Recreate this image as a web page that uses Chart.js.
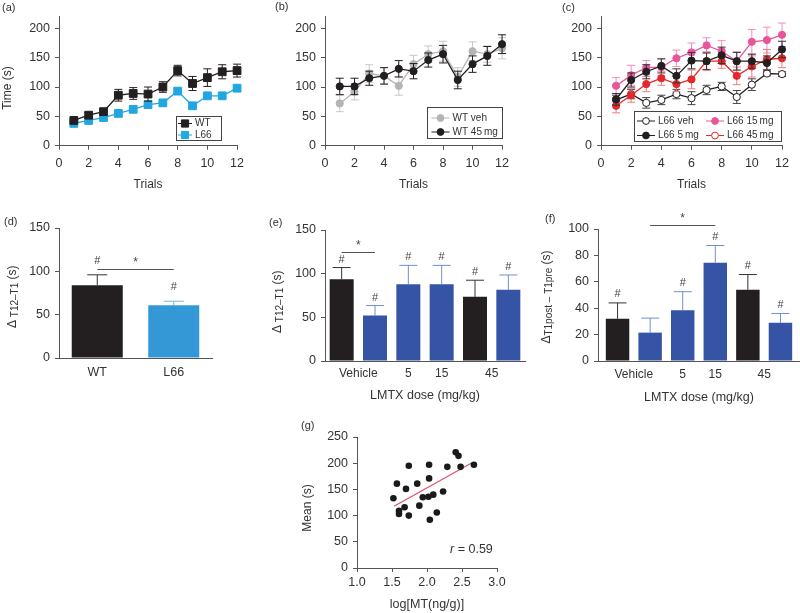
<!DOCTYPE html>
<html>
<head>
<meta charset="utf-8">
<script src="https://cdn.jsdelivr.net/npm/chart.js@4.4.1/dist/chart.umd.min.js"></script>
<style>
  body { margin: 0; background: #fff; }
  #fig { position: relative; width: 800px; height: 613px; overflow: hidden; }
  canvas { position: absolute; }
  .lab { position: absolute; font: 11px "Liberation Sans", Arial, sans-serif; color: #333; }
</style>
</head>
<body>
<div id="fig">
  <canvas id="chA" width="250" height="200" style="left:0;top:0"></canvas>
  <canvas id="chB" width="250" height="200" style="left:265px;top:0"></canvas>
  <canvas id="chC" width="265" height="200" style="left:535px;top:0"></canvas>
  <canvas id="chD" width="265" height="200" style="left:0;top:200px"></canvas>
  <canvas id="chE" width="265" height="210" style="left:265px;top:200px"></canvas>
  <canvas id="chF" width="265" height="210" style="left:535px;top:200px"></canvas>
  <canvas id="chG" width="260" height="213" style="left:280px;top:400px"></canvas>
  <div class="lab" style="left:2px;top:1px">(a)</div>
  <div class="lab" style="left:275px;top:0">(b)</div>
  <div class="lab" style="left:562px;top:1px">(c)</div>
  <div class="lab" style="left:4px;top:215px">(d)</div>
  <div class="lab" style="left:269px;top:216px">(e)</div>
  <div class="lab" style="left:545px;top:212px">(f)</div>
  <div class="lab" style="left:301px;top:419px">(g)</div>
</div>
<script>
// --- data ---
const trials = [1, 2, 3, 4, 5, 6, 7, 8, 9, 10, 11, 12];

// (a)
const aWT = [43, 52, 58, 86, 89, 88, 100, 128, 106, 116, 126, 128];
const aWTErr = [4, 5, 5, 10, 10, 12, 9, 9, 12, 15, 12, 11];
const aL66 = [38, 43, 48, 55, 62, 70, 73, 93, 68, 85, 85, 98];
const aL66Err = [3, 3, 3, 3, 3, 3, 3, 4, 3, 3, 3, 3];

// (b)
const bVeh = [72, 92, 123, 119, 102, 139, 156, 161, 117, 161, 156, 166];
const bVehErr = [14, 14, 15, 14, 16, 15, 14, 17, 16, 16, 14, 18];
const b45 = [101, 101, 115, 119, 131, 127, 146, 156, 112, 139, 153, 173];
const b45Err = [14, 14, 12, 14, 14, 13, 12, 15, 15, 14, 16, 16];

// (c)
const cVeh = [78, 88, 73, 78, 88, 81, 95, 101, 83, 104, 123, 122];
const cVehErr = [8, 8, 9, 8, 8, 11, 8, 7, 11, 10, 4, 4];
const c5 = [79, 112, 126, 136, 119, 145, 144, 154, 144, 144, 141, 164];
const c5Err = [10, 12, 12, 12, 12, 14, 14, 14, 15, 12, 12, 14];
const c15 = [102, 120, 133, 134, 149, 159, 171, 161, 144, 177, 180, 189];
const c15Err = [14, 17, 12, 14, 14, 16, 13, 18, 16, 21, 22, 20];
const c45 = [68, 86, 105, 115, 105, 113, 144, 144, 119, 135, 147, 149];
const c45Err = [12, 12, 13, 12, 13, 16, 16, 12, 15, 18, 17, 16];

// (d)
const dLabels = ['WT', 'L66'];
const dVals = [84, 61];
const dErr = [12, 4.5];
const dHash = [true, true];

// (e) and (f): six bars, grouped tick labels
const barPos = [1, 2, 3, 4, 5, 6];
const doseTickPos = [1.5, 3, 4, 5.5];
const doseTickLabels = ['Vehicle', '5', '15', '45'];
const eVals = [93.5, 52, 88, 88, 73.5, 81.5];
const eErr = [13.5, 11.5, 21.5, 21.5, 19, 17];
const eHash = [true, true, true, true, true, true];
const fVals = [32, 21.5, 38.5, 74.5, 54, 29];
const fErr = [12, 11, 14, 13, 11.5, 7];
const fHash = [true, false, true, true, true, true];

// (g)
const gX = [1.52, 1.57, 1.60, 1.60, 1.68, 1.70, 1.74, 1.74, 1.86, 1.89, 1.94, 2.02, 2.03, 2.03, 2.04, 2.09, 2.14, 2.23, 2.29, 2.41, 2.45, 2.48, 2.67];
const gY = [133, 161, 109, 103, 116, 151, 100, 195, 161, 119, 135, 136, 171, 197, 92, 140, 106, 146, 193, 221, 214, 193, 197];
const gFitX = [1.53, 2.63];
const gFitY = [118, 200];

// --- colours ---
const BLACK = '#231f20';
const AXIS = '#555';
const CYAN = '#21a6e0';
const GREY = '#b4b4b4';
const PINK = '#e9559b';
const RED = '#e5262b';
const NAVY = '#3654a5';
const SKY = '#3598d6';

Chart.defaults.font.family = '"Liberation Sans", Arial, sans-serif';
Chart.defaults.font.size = 12;
Chart.defaults.color = '#333';
Chart.defaults.animation = false;
Chart.defaults.plugins.legend.display = false;
Chart.defaults.plugins.tooltip.enabled = false;

const pts = (xs, ys) => xs.map((x, i) => ({ x, y: ys[i] }));

// error bars, drawn just before each dataset
const errorBars = {
    id: 'errorBars',
    beforeDatasetDraw(chart, args) {
        const ds = chart.data.datasets[args.index];
        if (!ds.errors) return;
        const y = chart.scales.y;
        const ctx = chart.ctx;
        ctx.save();
        ctx.strokeStyle = ds.errorColor || ds.borderColor;
        ctx.lineWidth = 1;
        args.meta.data.forEach((el, i) => {
            const d = ds.data[i];
            const v = typeof d === 'object' ? d.y : d;
            const e = ds.errors[i];
            const col = Array.isArray(ds.errorColor) ? ds.errorColor[i] : ds.errorColor;
            if (col) ctx.strokeStyle = col;
            const top = y.getPixelForValue(v + e);
            const bot = y.getPixelForValue(ds.upperOnly ? v : v - e);
            const cap = ds.capHalf || 4;
            ctx.beginPath();
            ctx.moveTo(el.x, top); ctx.lineTo(el.x, bot);
            ctx.moveTo(el.x - cap, top); ctx.lineTo(el.x + cap, top);
            if (!ds.upperOnly) { ctx.moveTo(el.x - cap, bot); ctx.lineTo(el.x + cap, bot); }
            ctx.stroke();
        });
        ctx.restore();
    }
};

// "#" marks above bars, "*" brackets
const sigMarks = {
    id: 'sigMarks',
    afterDatasetsDraw(chart, args, o) {
        if (!o.hash && !o.brackets) return;
        const ctx = chart.ctx;
        const y = chart.scales.y;
        const ds = chart.data.datasets[0];
        const meta = chart.getDatasetMeta(0);
        ctx.save();
        ctx.fillStyle = '#444';
        ctx.strokeStyle = AXIS;
        ctx.lineWidth = 1;
        ctx.textAlign = 'center';
        ctx.textBaseline = 'middle';
        ctx.font = '11px "Liberation Sans", Arial, sans-serif';
        (o.hash || []).forEach((h, i) => {
            if (!h) return;
            const d = ds.data[i];
            const v = (typeof d === 'object' ? d.y : d) + ds.errors[i];
            ctx.fillText('#', meta.data[i].x, y.getPixelForValue(v) - o.hashGap);
        });
        (o.brackets || []).forEach(b => {
            const x1 = meta.data[b.from].x, x2 = meta.data[b.to].x;
            const py = Math.round(y.getPixelForValue(b.y)) + 0.5;
            ctx.beginPath(); ctx.moveTo(x1, py); ctx.lineTo(x2, py); ctx.stroke();
            ctx.font = '12px "Liberation Sans", Arial, sans-serif';
            ctx.fillText('*', (x1 + x2) / 2, py - 7);
        });
        ctx.restore();
    }
};

// rotated axis title with optional subscript parts
const sideTitle = {
    id: 'sideTitle',
    afterDraw(chart, args, o) {
        if (!o.parts) return;
        const ctx = chart.ctx;
        const big = '12px "Liberation Sans", Arial, sans-serif';
        const small = '10px "Liberation Sans", Arial, sans-serif';
        ctx.save();
        let total = 0;
        o.parts.forEach(p => { ctx.font = p[1] ? small : big; total += ctx.measureText(p[0]).width; });
        ctx.translate(o.x, o.y);
        ctx.rotate(-Math.PI / 2);
        ctx.fillStyle = '#333';
        ctx.textBaseline = 'middle';
        ctx.textAlign = 'left';
        let x = -total / 2;
        o.parts.forEach(p => {
            ctx.font = p[1] ? small : big;
            ctx.fillText(p[0], x, p[1] ? 2.5 : 0);
            x += ctx.measureText(p[0]).width;
        });
        ctx.restore();
    }
};

// boxed legend with line through the marker
function drawMarker(ctx, style, x, y, r, fill, stroke) {
    ctx.fillStyle = fill;
    ctx.strokeStyle = stroke;
    ctx.lineWidth = 1;
    ctx.beginPath();
    if (style === 'rect') ctx.rect(x - r * 0.72, y - r * 0.72, r * 1.44, r * 1.44);
    else ctx.arc(x, y, r, 0, Math.PI * 2);
    ctx.fill();
    ctx.stroke();
}
const boxLegend = {
    id: 'boxLegend',
    afterDraw(chart, args, o) {
        if (!o.box) return;
        const ctx = chart.ctx;
        const b = o.box;
        ctx.save();
        ctx.strokeStyle = '#444';
        ctx.lineWidth = 1;
        ctx.strokeRect(b[0] + 0.5, b[1] + 0.5, b[2], b[3]);
        ctx.font = '10px "Liberation Sans", Arial, sans-serif';
        ctx.textBaseline = 'middle';
        chart.data.datasets.forEach((ds, i) => {
            const s = o.slots[i];
            const len = o.lineLen;
            ctx.strokeStyle = ds.borderColor;
            ctx.beginPath(); ctx.moveTo(s[0], s[1]); ctx.lineTo(s[0] + len, s[1]); ctx.stroke();
            const fill = ds.legendFill || ds.pointBackgroundColor;
            drawMarker(ctx, ds.pointStyle, s[0] + len / 2, s[1], ds.legendRadius || 3.4, fill, ds.pointBorderColor || ds.borderColor);
            ctx.fillStyle = '#333';
            ctx.fillText(ds.label, s[0] + len + 3, s[1]);
        });
        ctx.restore();
    }
};

Chart.register(errorBars, sigMarks, sideTitle, boxLegend);

function yAxis(max, step, width, size) {
    return {
        min: 0, max,
        ticks: { stepSize: step, includeBounds: false, padding: 5, font: { size: size || 12 } },
        grid: { drawOnChartArea: false, tickLength: 4, color: AXIS },
        border: { color: AXIS },
        afterFit: s => { s.width = width; }
    };
}

function trialsX(height) {
    return {
        type: 'linear', min: 0, max: 12,
        ticks: { stepSize: 2, includeBounds: false, padding: 6, maxRotation: 0, font: { size: 12.5 } },
        grid: { drawOnChartArea: false, tickLength: 4, color: AXIS },
        border: { color: AXIS },
        title: { display: true, text: 'Trials', padding: { top: 0, bottom: 8.5 } },
        afterFit: s => { s.height = height; }
    };
}

function doseX(height, min, max, labPad, titlePad) {
    return {
        type: 'linear', min, max, offset: false,
        grid: { display: false, drawTicks: false, offset: false },
        border: { color: AXIS },
        afterBuildTicks: s => { s.ticks = doseTickPos.map(v => ({ value: v })); },
        ticks: { padding: labPad, maxRotation: 0, autoSkip: false, callback: (v, i) => doseTickLabels[i] },
        title: { display: true, text: 'LMTX dose (mg/kg)', font: { size: 12.5 }, padding: { top: 0, bottom: titlePad } },
        afterFit: s => { s.height = height; }
    };
}

function lineSet(label, ys, errs, color, style, extra) {
    return Object.assign({
        label,
        data: pts(trials, ys),
        errors: errs,
        borderColor: color,
        borderWidth: 1.3,
        pointStyle: style,
        pointRadius: style === 'rect' ? 5.5 : 3.6,
        pointBackgroundColor: color,
        pointBorderColor: color,
        pointBorderWidth: 1,
        tension: 0,
        clip: false,
        capHalf: 4
    }, extra);
}

// (a)
new Chart(document.getElementById('chA'), {
    type: 'line',
    data: { datasets: [
        lineSet('WT', aWT, aWTErr, BLACK, 'rect', { errorColor: BLACK, legendRadius: 5 }),
        lineSet('L66', aL66, aL66Err, CYAN, 'rect', { errorColor: '#6cc4ec', legendRadius: 5 })
    ] },
    options: {
        responsive: false,
        layout: { padding: { top: 16.6, right: 11, left: 0, bottom: 0 } },
        scales: { x: trialsX(54.3), y: yAxis(220, 50, 59, 12.5) },
        plugins: {
            sideTitle: { parts: [['Time (s)', 0]], x: 7.5, y: 88 },
            boxLegend: { box: [176, 116, 45, 24], lineLen: 14, slots: [[178, 123.5], [178, 135]] }
        }
    }
});

// (b)
new Chart(document.getElementById('chB'), {
    type: 'line',
    data: { datasets: [
        lineSet('WT veh', bVeh, bVehErr, GREY, 'circle', { errorColor: '#c8c8c8', order: 1 }),
        lineSet('WT 45\u2009mg', b45, b45Err, BLACK, 'circle', { errorColor: BLACK, order: 0 })
    ] },
    options: {
        responsive: false,
        layout: { padding: { top: 16.6, right: 6, left: 0, bottom: 0 } },
        scales: { x: trialsX(54.3), y: yAxis(220, 50, 60, 12.5) },
        plugins: {
            boxLegend: { box: [162, 107, 75, 31], lineLen: 18, slots: [[166.5, 118], [166.5, 132]] }
        }
    }
});

// (c)
new Chart(document.getElementById('chC'), {
    type: 'line',
    data: { datasets: [
        lineSet('L66 veh', cVeh, cVehErr, BLACK, 'circle', { pointBackgroundColor: '#fff', errorColor: '#444', order: 3 }),
        lineSet('L66 5\u2009mg', c5, c5Err, BLACK, 'circle', { errorColor: '#333', order: 0 }),
        lineSet('L66 15\u2009mg', c15, c15Err, PINK, 'circle', { errorColor: '#f28dbe', order: 2 }),
        lineSet('L66 45\u2009mg', c45, c45Err, RED, 'circle', { errorColor: '#f27a7e', legendFill: '#fff', order: 1 })
    ] },
    options: {
        responsive: false,
        layout: { padding: { top: 16.6, right: 18, left: 0, bottom: 0 } },
        scales: { x: trialsX(54.3), y: yAxis(220, 50, 66, 12.5) },
        plugins: {
            boxLegend: { box: [99, 111, 147, 30], lineLen: 18, slots: [[102, 121], [102, 135.5], [171, 121], [171, 135.5]] }
        }
    }
});

// (d)
new Chart(document.getElementById('chD'), {
    type: 'bar',
    data: {
        labels: dLabels,
        datasets: [{
            data: dVals, errors: dErr, upperOnly: true, capHalf: 10,
            backgroundColor: [BLACK, SKY], errorColor: ['#333', '#6cbcec'],
            barPercentage: 0.667, categoryPercentage: 1
        }]
    },
    options: {
        responsive: false,
        layout: { padding: { top: 28, right: 53, left: 0, bottom: 0 } },
        scales: {
            x: {
                grid: { display: false, drawTicks: false },
                border: { color: AXIS },
                ticks: { padding: 7, font: { size: 12.5 } },
                afterFit: s => { s.height = 42; }
            },
            y: yAxis(150, 50, 59, 12.5)
        },
        plugins: {
            sideTitle: { parts: [['\u0394', 0], [' T12\u2013T1', 1], [' (s)', 0]], x: 13, y: 96.7 },
            sigMarks: { hash: dHash, hashGap: 14, brackets: [{ from: 0, to: 1, y: 102.3 }] }
        }
    }
});

function doseBars(vals, errs) {
    return {
        data: pts(barPos, vals), errors: errs, upperOnly: true, capHalf: 9,
        backgroundColor: [BLACK, NAVY, NAVY, NAVY, BLACK, NAVY],
        errorColor: ['#333', '#6f8fd2', '#6f8fd2', '#6f8fd2', '#333', '#6f8fd2'],
        barPercentage: 0.72, categoryPercentage: 1
    };
}

// (e)
new Chart(document.getElementById('chE'), {
    type: 'bar',
    data: { datasets: [doseBars(eVals, eErr)] },
    options: {
        responsive: false,
        layout: { padding: { top: 30, right: 5, left: 0, bottom: 0 } },
        scales: { x: doseX(49, 0.5, 6.5, 5, 6.5), y: yAxis(150, 50, 60, 12.5) },
        plugins: {
            sideTitle: { parts: [['\u0394', 0], [' T12\u2013T1', 1], [' (s)', 0]], x: 13, y: 101.7 },
            sigMarks: { hash: eHash, hashGap: 8, brackets: [{ from: 0, to: 1, y: 125 }] }
        }
    }
});

// (f)
new Chart(document.getElementById('chF'), {
    type: 'bar',
    data: { datasets: [doseBars(fVals, fErr)] },
    options: {
        responsive: false,
        layout: { padding: { top: 29, right: 0, left: 0, bottom: 0 } },
        scales: { x: doseX(49, 0.4, 6.6, 6.8, 4.8), y: yAxis(100, 20, 63, 12.5) },
        plugins: {
            sideTitle: { parts: [['\u0394', 0], ['T1post \u2013 T1pre', 1], [' (s)', 0]], x: 12, y: 97 },
            sigMarks: { hash: fHash, hashGap: 9, brackets: [{ from: 1, to: 3, y: 103 }] }
        }
    }
});

// (g)
const rText = {
    id: 'rText',
    afterDraw(chart, args, o) {
        if (!o.show) return;
        const ctx = chart.ctx;
        const x = chart.scales.x.getPixelForValue(o.x);
        const y = chart.scales.y.getPixelForValue(o.y);
        ctx.save();
        ctx.fillStyle = '#333';
        ctx.textBaseline = 'middle';
        ctx.textAlign = 'right';
        ctx.font = '12.5px "Liberation Sans", Arial, sans-serif';
        const rest = ' = 0.59';
        ctx.fillText(rest, x, y);
        const w = ctx.measureText(rest).width;
        ctx.font = 'italic 12.5px "Liberation Sans", Arial, sans-serif';
        ctx.fillText('r', x - w, y);
        ctx.restore();
    }
};

new Chart(document.getElementById('chG'), {
    type: 'scatter',
    data: { datasets: [
        { data: pts(gX, gY), pointRadius: 3.3, pointBackgroundColor: '#1a1a1a', pointBorderWidth: 0, order: 0 },
        { type: 'line', data: pts(gFitX, gFitY), borderColor: '#e0506a', borderWidth: 1.2, pointRadius: 0, order: 1 }
    ] },
    options: {
        responsive: false,
        layout: { padding: { top: 37, right: 43, left: 0, bottom: 0 } },
        scales: {
            x: {
                type: 'linear', min: 1, max: 3,
                ticks: { stepSize: 0.5, padding: 3.5, font: { size: 12.5 }, callback: v => v.toFixed(1) },
                grid: { drawOnChartArea: false, tickLength: 4, color: AXIS },
                border: { color: AXIS },
                title: { display: true, text: 'log[MT(ng/g)]', font: { size: 12.5 }, padding: { top: 0, bottom: 1 } },
                afterFit: s => { s.height = 45; }
            },
            y: yAxis(250, 50, 77, 12.5)
        },
        plugins: {
            sideTitle: { parts: [['Mean (s)', 0]], x: 28, y: 108 },
            rText: { show: true, x: 2.94, y: 36 }
        }
    },
    plugins: [rText]
});
</script>
</body>
</html>
